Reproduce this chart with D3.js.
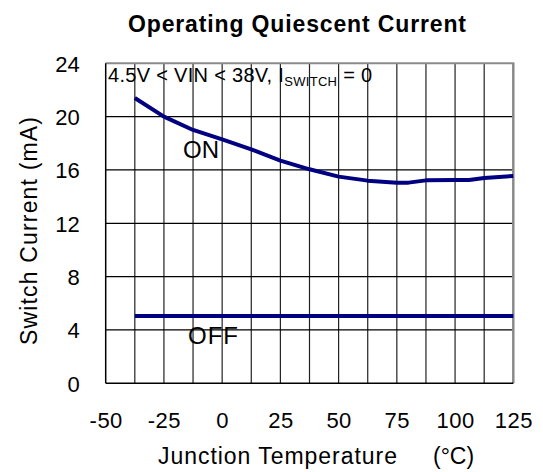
<!DOCTYPE html>
<html lang="en">
<head>
    <meta charset="UTF-8">
    <title>Operating Quiescent Current</title>
    <script src="https://d3js.org/d3.v7.min.js"></script>
    <style>
        body { margin: 0; background: #fff; }
        text { font-family: "Liberation Sans", Arial, sans-serif; fill: #000; }
    </style>
</head>
<body>
    <svg></svg>
    <script>
        // values
        const tempC = [-37.5, -25, -12.5, 0, 12.5, 25, 37.5, 50, 62.5, 75, 80, 87.5, 100, 106, 112.5, 125];
        const onCurrent = [21.4, 20.0, 19.0, 18.3, 17.55, 16.7, 16.05, 15.5, 15.2, 15.05, 15.05, 15.22, 15.25, 15.25, 15.4, 15.55];
        const offTemp = [-37.5, 125];
        const offCurrent = [5.05, 5.05];
        const xTicks = [-50, -25, 0, 25, 50, 75, 100, 125];
        const yTicks = [0, 4, 8, 12, 16, 20, 24];
        const xGrid = d3.range(-37.5, 125, 12.5);

        const width = 543, height = 472;
        const svg = d3.select("svg")
            .attr("width", width)
            .attr("height", height);

        const x = d3.scaleLinear().domain([-50, 125]).range([105.7, 513.3]);
        const y = d3.scaleLinear().domain([0, 24]).range([383.3, 63.3]);

        // grid
        svg.append("g")
            .selectAll("line")
            .data(xGrid)
            .join("line")
            .attr("x1", d => x(d)).attr("x2", d => x(d))
            .attr("y1", y(24)).attr("y2", y(0))
            .attr("stroke", "#222")
            .attr("stroke-width", 1.2);

        svg.append("g")
            .selectAll("line")
            .data(yTicks.filter(d => d > 0 && d < 24))
            .join("line")
            .attr("x1", x(-50)).attr("x2", x(125))
            .attr("y1", d => y(d)).attr("y2", d => y(d))
            .attr("stroke", "#000")
            .attr("stroke-width", 1.2);

        // frame: grey top/right, black left/bottom
        svg.append("line")
            .attr("x1", x(-50)).attr("x2", x(125) + 1)
            .attr("y1", y(24)).attr("y2", y(24))
            .attr("stroke", "#8a8a8a").attr("stroke-width", 2);
        svg.append("line")
            .attr("x1", x(125)).attr("x2", x(125))
            .attr("y1", y(24)).attr("y2", y(0))
            .attr("stroke", "#8a8a8a").attr("stroke-width", 2.5);
        svg.append("line")
            .attr("x1", x(-50)).attr("x2", x(-50))
            .attr("y1", y(24)).attr("y2", y(0))
            .attr("stroke", "#000").attr("stroke-width", 1.5);
        svg.append("line")
            .attr("x1", x(-50)).attr("x2", x(125))
            .attr("y1", y(0)).attr("y2", y(0))
            .attr("stroke", "#000").attr("stroke-width", 1.5);

        // axes (labels only)
        const xAxis = svg.append("g")
            .attr("transform", `translate(0,${y(0)})`)
            .call(d3.axisBottom(x).tickValues(xTicks).tickSize(0).tickFormat(d => String(d)));
        xAxis.select(".domain").remove();
        xAxis.selectAll("text")
            .attr("y", 45).attr("dy", null)
            .attr("font-size", 22)
            .attr("letter-spacing", 0.5)
            .attr("font-family", "Liberation Sans, Arial, sans-serif");

        const yAxis = svg.append("g")
            .attr("transform", `translate(${x(-50)},0)`)
            .call(d3.axisLeft(y).tickValues(yTicks).tickSize(0));
        yAxis.select(".domain").remove();
        yAxis.selectAll("text")
            .attr("x", -26).attr("dy", "0.36em")
            .attr("font-size", 22)
            .attr("font-family", "Liberation Sans, Arial, sans-serif");

        // series
        const line = d3.line().x(d => x(d[0])).y(d => y(d[1]));
        svg.append("path")
            .datum(d3.zip(tempC, onCurrent))
            .attr("d", line)
            .attr("fill", "none")
            .attr("stroke", "#000080")
            .attr("stroke-width", 4)
            .attr("stroke-linejoin", "round");
        svg.append("path")
            .datum(d3.zip(offTemp, offCurrent))
            .attr("d", line)
            .attr("fill", "none")
            .attr("stroke", "#000080")
            .attr("stroke-width", 4);

        // labels
        svg.append("text")
            .attr("x", 297).attr("y", 32)
            .attr("text-anchor", "middle")
            .attr("font-size", 23).attr("font-weight", "bold")
            .attr("textLength", 338).attr("lengthAdjust", "spacing")
            .text("Operating Quiescent Current");

        svg.append("text")
            .attr("transform", "translate(37,231) rotate(-90)")
            .attr("text-anchor", "middle")
            .attr("font-size", 23)
            .attr("textLength", 228).attr("lengthAdjust", "spacing")
            .text("Switch Current (mA)");

        svg.append("text")
            .attr("x", 158).attr("y", 464)
            .attr("font-size", 23)
            .attr("textLength", 239).attr("lengthAdjust", "spacing")
            .text("Junction Temperature");
        svg.append("text")
            .attr("x", 433).attr("y", 464)
            .attr("font-size", 23)
            .text("(°C)");

        const note = svg.append("text")
            .attr("x", 108).attr("y", 82)
            .attr("font-size", 20)
            .attr("letter-spacing", 0.3);
        note.append("tspan").text("4.5V < VIN < 38V, I");
        note.append("tspan").attr("font-size", 13).attr("dy", 4).text("SWITCH");
        note.append("tspan").attr("dy", -4).text(" = 0");

        svg.append("text")
            .attr("x", 183).attr("y", 158)
            .attr("font-size", 24)
            .text("ON");
        svg.append("text")
            .attr("x", 188).attr("y", 344)
            .attr("font-size", 24)
            .attr("letter-spacing", 1)
            .text("OFF");
    </script>
</body>
</html>
